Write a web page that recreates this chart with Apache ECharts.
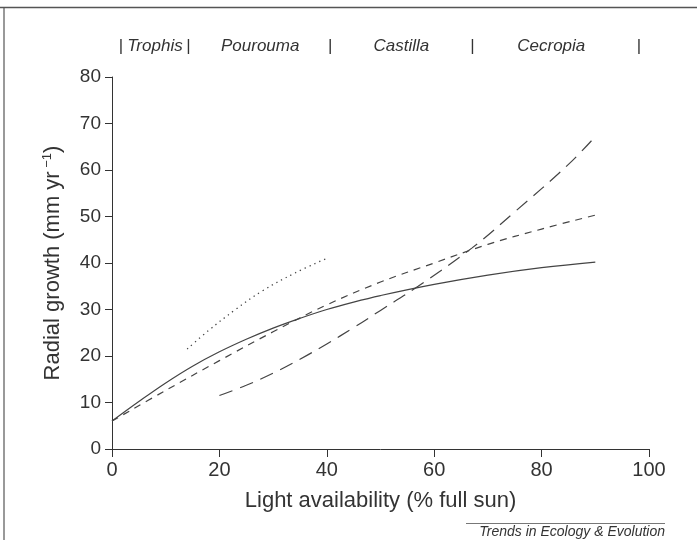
<!DOCTYPE html>
<html>
<head>
<meta charset="utf-8">
<style>
  html, body { margin: 0; padding: 0; background: #fff; }
  #chart { width: 697px; height: 540px; }
</style>
<script src="https://cdn.jsdelivr.net/npm/echarts@6/dist/echarts.min.js"></script>
</head>
<body>
<div id="chart"></div>
<script>
// ---- data ----
var xTicks = [0, 20, 40, 60, 80, 100];
var yTicks = [0, 10, 20, 30, 40, 50, 60, 70, 80];

// solid curve
var solidX = [0, 5, 10, 15, 20, 25, 30, 35, 40, 45, 50, 60, 70, 80, 90];
var solidY = [6, 10.2, 14.2, 17.8, 20.9, 23.6, 26, 28.1, 30, 31.6, 33, 35.4, 37.4, 39, 40.2];

// short-dashed curve
var shortDashX = [0, 10, 20, 30, 40, 50, 60, 70, 80, 90];
var shortDashY = [6, 12.6, 19, 25.2, 31, 35.9, 40, 44, 47.3, 50.3];

// long-dashed curve
var longDashX = [20, 25, 30, 35, 40, 45, 50, 57, 67, 75, 85, 90];
var longDashY = [11.5, 13.7, 16.3, 19.3, 22.6, 26.1, 29.8, 35, 43.2, 51, 61.2, 67.2];

// dotted curve
var dottedX = [14, 18, 23, 28, 34, 40];
var dottedY = [21.5, 25.5, 30, 34, 37.8, 41];

// species range labels (x positions along light axis)
var speciesNames = ['Trophis', 'Pourouma', 'Castilla', 'Cecropia'];
var speciesCenters = [8.0, 27.6, 53.9, 81.8];
var separatorX = [1.6, 14.2, 40.6, 67.1, 98.1];

var xName = 'Light availability (% full sun)';
var yName = 'Radial growth (mm yr{sup| \u22121})';
var sourceText = 'Trends in Ecology & Evolution';

function pairs(xs, ys) { return xs.map(function (x, i) { return [x, ys[i]]; }); }

var FONT = '"Liberation Sans", Arial, Helvetica, sans-serif';
var INK = '#333';
var LINE = '#444';

var chart = echarts.init(document.getElementById('chart'), null, { renderer: 'canvas' });

var option = {
  backgroundColor: '#fff',
  animation: false,
  textStyle: { fontFamily: FONT, color: INK },
  grid: { left: 112, right: 48, top: 77, bottom: 91, containLabel: false },
  xAxis: {
    type: 'value', min: 0, max: 100, interval: 20,
    name: xName, nameLocation: 'middle', nameGap: 41,
    nameTextStyle: { fontSize: 22, color: INK, fontFamily: FONT },
    axisLine: { show: true, lineStyle: { color: INK, width: 1 } },
    axisTick: { show: true, inside: false, length: 8, lineStyle: { color: INK, width: 1 } },
    axisLabel: { fontSize: 20, color: INK, margin: 11, fontFamily: FONT },
    splitLine: { show: false }
  },
  yAxis: {
    type: 'value', min: 0, max: 80, interval: 10,
    name: yName, nameLocation: 'middle', nameGap: 48, nameRotate: 90,
    nameTextStyle: {
      fontSize: 22, color: INK, fontFamily: FONT,
      rich: { sup: { fontSize: 13, color: INK, fontFamily: FONT, padding: [0, 0, 10, 0] } }
    },
    axisLine: { show: true, onZero: false, lineStyle: { color: INK, width: 1 } },
    axisTick: { show: true, inside: false, length: 7, lineStyle: { color: INK, width: 1 } },
    axisLabel: { fontSize: 19, color: INK, margin: 11, fontFamily: FONT },
    splitLine: { show: false }
  },
  series: [
    { type: 'line', data: pairs(solidX, solidY), smooth: 0.4, showSymbol: false, symbol: 'none',
      lineStyle: { color: LINE, width: 1.2, type: 'solid' } },
    { type: 'line', data: pairs(shortDashX, shortDashY), smooth: 0.4, showSymbol: false, symbol: 'none',
      lineStyle: { color: LINE, width: 1.2, type: [7, 6] } },
    { type: 'line', data: pairs(longDashX, longDashY), smooth: 0.4, showSymbol: false, symbol: 'none',
      lineStyle: { color: LINE, width: 1.2, type: [14, 8] } },
    { type: 'line', data: pairs(dottedX, dottedY), smooth: 0.4, showSymbol: false, symbol: 'none',
      lineStyle: { color: LINE, width: 1.3, type: [1.3, 4] } }
  ]
};
chart.setOption(option);

// species labels placed along the x scale
var labelY = 46;
var graphics = [];
speciesNames.forEach(function (name, i) {
  var px = chart.convertToPixel({ xAxisIndex: 0 }, speciesCenters[i]);
  graphics.push({
    type: 'text', x: px, y: labelY,
    style: { text: name, fontSize: 17, fontStyle: 'italic', fontFamily: FONT,
             fill: INK, align: 'center', verticalAlign: 'middle' }
  });
});
separatorX.forEach(function (sx) {
  var px = chart.convertToPixel({ xAxisIndex: 0 }, sx);
  graphics.push({
    type: 'text', x: px, y: labelY,
    style: { text: '|', fontSize: 17, fontStyle: 'italic', fontFamily: FONT,
             fill: INK, align: 'center', verticalAlign: 'middle' }
  });
});
// frame lines
graphics.push({ type: 'line', shape: { x1: 0, y1: 7.5, x2: 697, y2: 7.5 },
  style: { stroke: '#555', lineWidth: 1.5 } });
graphics.push({ type: 'line', shape: { x1: 4, y1: 7.5, x2: 4, y2: 540 },
  style: { stroke: '#555', lineWidth: 1.2 } });
// source credit
graphics.push({ type: 'line', shape: { x1: 466, y1: 523.5, x2: 665, y2: 523.5 },
  style: { stroke: '#777', lineWidth: 1 } });
graphics.push({ type: 'text', x: 665, y: 532,
  style: { text: sourceText, fontSize: 14, fontStyle: 'italic', fontFamily: FONT,
           fill: INK, align: 'right', verticalAlign: 'middle' } });

chart.setOption({ graphic: graphics });
</script>
</body>
</html>
